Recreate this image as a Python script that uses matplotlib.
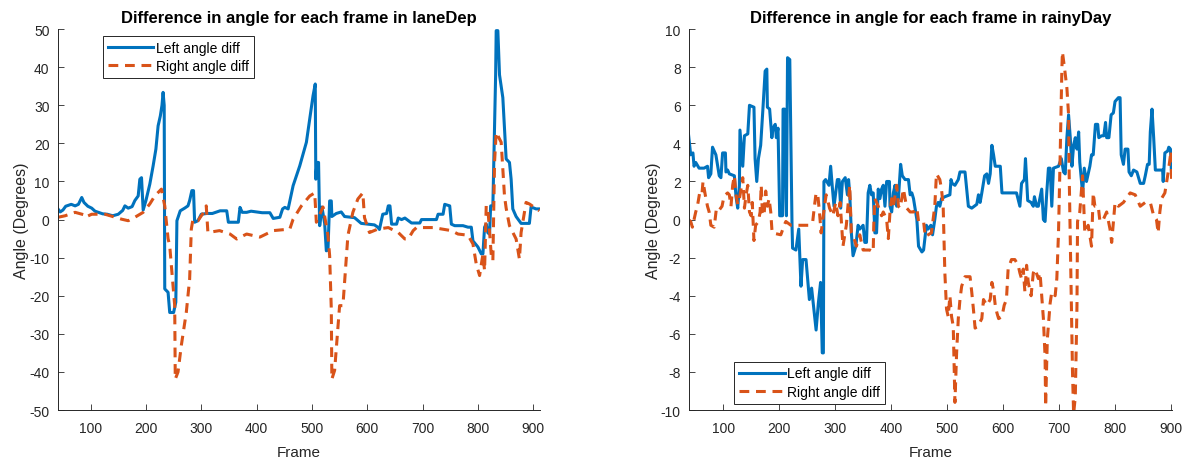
import numpy as np
import matplotlib
matplotlib.use("Agg")
import matplotlib.pyplot as plt

plt.rcParams["font.family"] = ["Liberation Sans", "DejaVu Sans"]
plt.rcParams["axes.unicode_minus"] = False

# laneDep, left angle difference (frame, degrees)
lane_left_f = [41, 45, 50, 55, 65, 72, 78, 84, 88, 95, 102, 108, 114, 122, 130, 140, 150, 158,
               162, 168, 175, 180, 186, 189, 192, 195, 200, 207, 213, 218, 222, 226, 229, 231,
               233, 234, 240, 243, 250, 254, 256, 262, 270, 276, 279, 283, 286, 288, 294, 300,
               310, 320, 334, 346, 349, 367, 370, 374, 382, 390, 400, 410, 424, 430, 442, 447,
               451, 457, 466, 478, 490, 496, 502, 506, 507, 509, 512, 514, 518, 523, 526, 529,
               532, 535, 536, 544, 553, 559, 577, 589, 613, 619, 622, 628, 635, 638, 641, 644,
               653, 656, 662, 668, 680, 695, 698, 725, 728, 737, 740, 749, 752, 758, 773, 782,
               788, 791, 800, 806, 809, 812, 815, 818, 821, 823, 827, 830, 832, 833, 836, 839,
               845, 851, 857, 860, 863, 869, 878, 893, 896, 905, 911]
lane_left_v = [2.8, 2.0, 2.5, 3.5, 4.0, 3.6, 4.0, 5.8, 4.5, 3.5, 3.0, 2.2, 1.9, 1.5, 1.4, 1.0, 1.4, 2.4,
               3.6, 3.0, 3.4, 5.0, 6.2, 10.6, 11.0, 2.5, 5.0, 9.3, 14.1, 18.5, 24.6, 27.2, 30.0, 33.4,
               30.0, -18.2, -19.1, -24.4, -24.4, -21.7, -0.3, 2.3, 3.0, 3.6, 5.0, 7.6, 7.6, -0.7, -0.3, 1.4,
               1.6, 1.6, 2.3, 2.3, -0.7, -0.7, 3.2, 1.9, 1.9, 2.2, 2.0, 1.8, 1.8, 0.3, 0.6, 2.8,
               3.2, 2.8, 8.9, 14.1, 20.3, 26.4, 32.5, 35.6, 10.6, 15.0, 15.0, -1.6, 3.3, -1.0, -8.2, -8.0,
               4.9, 4.9, 0.8, 1.6, 2.0, 0.8, 0.5, -1.0, -1.4, -2.0, -2.6, 1.4, 1.6, 3.6, 3.6, -1.2,
               -1.2, 0.4, 0.0, 0.4, -0.9, -0.9, 0.0, 0.0, 1.4, 1.4, 4.0, 3.6, -1.2, -1.6, -1.6, -2.0,
               -2.0, -5.6, -7.2, -9.0, -9.0, -2.0, -1.2, -3.5, -3.8, 3.6, 3.6, 25.0, 38.0, 49.6, 49.6, 38.0,
               32.0, 15.9, 15.0, 10.6, 2.8, 0.8, -1.0, -1.0, 3.3, 2.8, 2.8]

# laneDep, right angle difference
lane_right_f = [41, 54, 72, 87, 90, 102, 126, 140, 156, 168, 180, 195, 207, 216, 228, 234, 240,
                243, 249, 252, 253, 258, 264, 273, 279, 282, 285, 294, 303, 309, 312, 333, 352,
                364, 382, 406, 430, 460, 466, 481, 496, 505, 508, 520, 526, 529, 532, 535, 536,
                541, 550, 556, 565, 574, 583, 592, 595, 604, 619, 638, 656, 668, 674, 683, 689,
                719, 752, 764, 782, 791, 797, 803, 809, 812, 815, 818, 824, 827, 830, 833, 842,
                848, 851, 857, 869, 875, 878, 887, 893, 911]
lane_right_v = [0.6, 1.0, 1.9, 1.3, 0.6, 1.4, 1.4, 0.8, 0.1, -0.3, 0.6, 1.9, 4.1, 6.2, 8.0, 3.6, -5.0,
                -6.9, -17.4, -22.6, -41.9, -40.0, -33.0, -24.3, -15.6, -2.5, 0.1, -0.3, 1.6, 3.6, -3.4, -2.9, -3.8,
                -5.1, -3.8, -4.6, -2.9, -2.5, 0.1, 3.6, 6.2, 7.0, -0.7, 3.3, -1.6, -4.2, -9.5, -23.5, -41.9,
                -39.6, -22.6, -22.6, -4.2, 1.9, 5.4, 7.0, 0.5, -3.4, -2.5, -2.1, -3.4, -5.1, -5.1, -2.9, -2.1,
                -2.1, -2.9, -3.8, -4.1, -6.4, -11.7, -14.7, -9.1, -13.4, 3.6, 2.8, -9.1, -10.8, 15.0, 22.9, 20.3,
                6.2, 3.0, -1.6, -5.1, -10.4, -3.4, 4.5, 4.1, 2.3]

# rainyDay, left angle difference
rain_left_f = [38, 42, 46, 48, 51, 57, 66, 72, 74, 78, 81, 87, 93, 96, 99, 104, 105, 108, 111, 120,
               123, 126, 129, 130, 135, 138, 144, 145, 147, 155, 157, 160, 163, 167, 171, 175, 178,
               179, 183, 187, 189, 193, 195, 198, 200, 201, 206, 207, 210, 212, 213, 215, 219, 223,
               224, 230, 235, 239, 242, 248, 254, 258, 263, 266, 270, 274, 277, 279, 280, 283, 289,
               292, 295, 298, 301, 304, 307, 310, 313, 318, 322, 324, 326, 329, 332, 337, 341, 344,
               350, 353, 356, 359, 362, 365, 368, 371, 374, 377, 380, 383, 386, 389, 392, 397, 398,
               401, 404, 407, 410, 413, 417, 420, 425, 431, 434, 437, 440, 446, 449, 455, 458, 461,
               463, 466, 471, 474, 478, 481, 484, 487, 490, 496, 505, 507, 509, 514, 520, 523, 532,
               538, 544, 553, 556, 559, 562, 567, 571, 574, 577, 580, 583, 586, 595, 598, 612, 624,
               630, 633, 638, 640, 644, 650, 654, 656, 660, 663, 669, 672, 675, 678, 681, 684, 687,
               690, 699, 704, 708, 711, 714, 717, 720, 723, 726, 729, 732, 735, 737, 742, 745, 749,
               755, 758, 761, 765, 769, 771, 776, 780, 783, 785, 789, 793, 797, 800, 806, 809, 811,
               815, 818, 823, 825, 829, 833, 839, 845, 851, 854, 858, 861, 863, 866, 869, 872, 885,
               886, 889, 894, 896, 899, 901]
rain_left_v = [4.5, 3.4, 3.5, 2.8, 3.0, 2.7, 2.7, 2.8, 2.2, 2.4, 3.8, 3.4, 2.3, 2.2, 3.5, 3.5, 2.5, 2.6, 2.4, 2.3,
               1.2, 0.6, 1.8, 4.7, 2.8, 4.4, 4.5, 5.0, 6.0, 5.9, 3.2, 2.0, 3.2, 3.9, 5.8, 7.8, 7.9,
               5.9, 5.8, 4.3, 4.8, 5.0, 4.3, 4.8, 1.8, 0.2, 0.2, 5.8, 5.8, 1.1, 0.2, 8.5, 8.4, -0.3,
               -1.5, -1.6, -0.5, -3.5, -2.1, -2.1, -4.2, -3.6, -5.0, -5.8, -4.4, -3.3, -7.0, -7.0, 2.0, 2.1, 1.8,
               2.8, 1.7, 0.7, 1.4, 2.1, 2.1, 0.6, 2.0, 2.2, 1.3, 2.1, 1.4, -0.7, -1.9, -1.4, -0.3, -0.5,
               -0.3, -1.2, -1.2, 1.4, 1.8, 1.3, 1.4, -0.7, -0.7, 1.6, 1.1, 1.6, 1.8, 0.7, 2.0, 2.0, 0.7,
               0.4, 1.4, 1.8, 0.7, 1.1, 2.9, 2.3, 2.1, 2.1, 1.3, 1.4, 1.1, 0.0, -1.4, -1.7, -1.6, -0.8,
               -0.3, -0.5, -0.3, -0.8, 0.0, 0.7, 0.9, 0.7, 1.1, 1.2, 1.3, 2.1, 1.9, 1.8, 2.1, 2.5, 2.5,
               0.7, 0.6, 0.8, 1.3, 0.9, 1.4, 2.3, 2.4, 1.9, 2.4, 3.9, 3.4, 2.8, 2.8, 1.4, 1.4, 1.4,
               0.7, 1.9, 2.1, 3.2, 1.0, 0.9, 0.7, 1.2, 0.7, 0.7, 1.6, 0.0, -0.1, 1.4, 2.7, 2.7, 0.7,
               2.7, 2.8, 3.2, 2.5, 2.4, 4.3, 5.5, 4.3, 2.8, 3.9, 4.3, 3.7, 4.6, 3.0, 1.4, 2.7, 2.0,
               2.8, 3.4, 3.4, 5.0, 5.0, 4.3, 4.4, 4.4, 5.1, 4.3, 4.3, 5.5, 5.6, 6.2, 6.4, 6.4, 3.4,
               2.9, 3.7, 3.7, 2.5, 2.3, 2.6, 2.5, 1.9, 1.9, 2.3, 2.9, 2.9, 4.6, 5.8, 4.3, 2.6, 2.6,
               2.0, 3.5, 3.6, 3.8, 3.7, 2.3]

# rainyDay, right angle difference
rain_right_f = [38, 42, 45, 51, 54, 58, 62, 64, 68, 72, 75, 78, 84, 88, 93, 98, 100, 104, 108, 111,
                114, 117, 120, 123, 126, 129, 132, 135, 138, 141, 144, 147, 150, 152, 155, 158, 163,
                166, 168, 170, 173, 176, 179, 182, 185, 187, 188, 203, 209, 212, 221, 236, 254, 260,
                263, 266, 269, 272, 275, 278, 281, 284, 287, 290, 296, 301, 305, 309, 314, 320, 326,
                329, 334, 338, 344, 350, 362, 368, 369, 371, 377, 383, 386, 392, 395, 398, 401, 404,
                410, 413, 416, 422, 425, 428, 434, 440, 446, 449, 458, 461, 466, 472, 475, 478, 481,
                487, 490, 493, 496, 499, 502, 505, 508, 511, 514, 517, 520, 523, 526, 532, 541, 544,
                547, 550, 555, 562, 565, 571, 577, 580, 583, 586, 589, 592, 598, 602, 606, 609, 615,
                621, 627, 630, 633, 636, 639, 642, 645, 650, 654, 657, 663, 666, 669, 672, 675, 676,
                679, 684, 687, 693, 696, 699, 702, 705, 706, 710, 714, 717, 718, 721, 724, 726, 729,
                732, 733, 737, 742, 746, 752, 758, 761, 764, 770, 773, 779, 785, 791, 794, 800, 806,
                815, 827, 836, 845, 854, 863, 869, 874, 877, 880, 883, 889, 895, 900, 901]
rain_right_v = [0.0, -0.1, -0.4, 0.4, 0.7, 1.4, 1.3, 2.0, 1.3, 0.7, 0.4, -0.3, -0.4, 0.6, 0.5, 0.7, 1.0, 1.3, 1.4, 1.3,
                0.7, 1.8, 2.3, 1.3, 0.8, 1.1, 1.6, 2.2, 0.6, 1.3, 1.8, 0.4, 0.2, 0.9, -1.1, -0.3, -0.1,
                0.4, 1.8, 0.4, 0.2, 1.5, 0.7, 1.1, 0.4, -0.5, -0.7, -0.8, -0.3, -0.1, -0.3, -0.3, -0.3, -0.1,
                0.7, 1.4, 1.3, 0.4, -0.7, 0.0, 0.7, 1.3, 1.0, 0.6, 0.2, 0.9, 0.2, 0.9, -1.4, -0.3, 1.8,
                -0.7, -1.0, -1.4, -0.8, -1.6, -1.6, -1.7, -0.3, 1.1, 0.7, 0.2, 0.4, 0.0, -1.0, 0.4, 1.1, 0.7,
                1.8, 0.7, 0.6, 1.6, 1.1, 0.6, 0.4, 0.4, 0.6, -0.1, -0.1, -0.9, -0.8, -0.7, 0.0, 0.7, 2.4,
                2.1, 1.6, 0.7, -2.8, -4.7, -5.1, -4.0, -5.1, -5.6, -9.6, -7.0, -5.2, -4.2, -3.5, -3.0, -3.0, -3.8,
                -4.7, -5.7, -5.6, -5.2, -4.2, -4.5, -4.2, -3.3, -3.7, -4.5, -4.9, -5.2, -5.1, -4.5, -4.2, -2.6, -2.1,
                -2.1, -2.4, -2.8, -3.1, -2.6, -3.8, -2.4, -3.3, -4.0, -2.8, -2.6, -3.1, -2.8, -4.0, -5.2, -7.2, -9.8,
                -6.3, -4.4, -3.8, -4.0, -3.1, -0.7, 3.4, 7.9, 8.8, 7.9, 6.9, 5.5, 2.5, -2.8, -8.0, -10.2, -9.3,
                -4.5, -0.1, 0.4, 2.3, -0.7, -0.3, -1.4, 1.4, 0.7, 0.7, -0.1, 0.0, 0.4, -0.5, -1.2, 0.9, 0.7,
                0.9, 1.4, 1.3, 0.7, 0.9, 0.9, 0.2, 0.0, -0.7, 0.4, 1.1, 1.4, 2.5, 3.6, 2.1]

blue = "#0072BD"
orange = "#D95319"
dark = "#262626"


def draw_panel(ax, left_f, left_v, right_f, right_v, title, xlim, ylim, yticks, legend_pos):
    ax.plot(left_f, left_v, color=blue, lw=2.2, label="Left angle diff")
    ax.plot(right_f, right_v, color=orange, lw=2.2, ls=(0, (3.2, 2.2)),
            label="Right angle diff")
    ax.set_xlim(*xlim)
    ax.set_ylim(*ylim)
    ax.set_xticks(np.arange(100, 901, 100))
    ax.set_yticks(yticks)
    ax.tick_params(direction="in", length=4, width=0.6, colors=dark, labelsize=10,
                   labelcolor=dark)
    ax.tick_params(axis="x", pad=8)
    ax.tick_params(axis="y", pad=6)
    for side in ["top", "right"]:
        ax.spines[side].set_visible(False)
    for side in ["left", "bottom"]:
        ax.spines[side].set_color(dark)
        ax.spines[side].set_linewidth(0.7)
    ax.set_title(title, fontsize=12, fontweight="bold", pad=5)
    ax.set_xlabel("Frame", fontsize=11, color=dark, labelpad=7)
    ax.set_ylabel("Angle (Degrees)", fontsize=11.5, color=dark, labelpad=0)
    leg = ax.legend(loc="upper left", bbox_to_anchor=legend_pos, fontsize=10,
                    handlelength=3.3, handletextpad=0.2, borderpad=0.35,
                    labelspacing=0.3, fancybox=False, framealpha=1,
                    edgecolor=dark, borderaxespad=0)
    leg.get_frame().set_linewidth(0.7)


fig = plt.figure(figsize=(11.9, 4.6), dpi=100)
ax1 = fig.add_axes([0.0487, 0.1065, 0.405, 0.828])
ax2 = fig.add_axes([0.579, 0.1065, 0.406, 0.828])

draw_panel(ax1, lane_left_f, lane_left_v, lane_right_f, lane_right_v,
           "Difference in angle for each frame in laneDep",
           (41, 912), (-50, 50), np.arange(-50, 51, 10), (0.093, 0.982))
draw_panel(ax2, rain_left_f, rain_left_v, rain_right_f, rain_right_v,
           "Difference in angle for each frame in rainyDay",
           (39, 902), (-10, 10), np.arange(-10, 11, 2), (0.093, 0.127))

fig.savefig("out.png", dpi=100)
